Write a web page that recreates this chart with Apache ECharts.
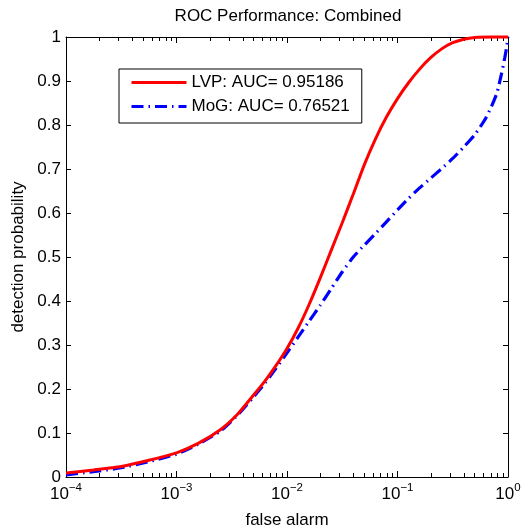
<!DOCTYPE html>
<html>
<head>
<meta charset="utf-8">
<script src="https://cdn.jsdelivr.net/npm/echarts@6/dist/echarts.min.js"></script>
<style>html,body{margin:0;padding:0;background:#fff;}#c{width:522px;height:529px;}</style>
</head>
<body>
<div id="c"></div>
<script>
// false alarm values (x) and detection probabilities (y)
var lvpFA = [1e-4, 1.778e-4, 3.162e-4, 5.623e-4, 1e-3, 1.585e-3, 2.512e-3, 3.548e-3, 5.012e-3, 6.31e-3,
             7.943e-3, 0.01, 0.01259, 0.01585, 0.01995, 0.02512, 0.03162, 0.03981, 0.05012, 0.0631,
             0.07943, 0.1, 0.1259, 0.1585, 0.1995, 0.2512, 0.3162, 0.3981, 0.5012, 0.7079, 1];
var lvpPD = [0.009, 0.016, 0.024, 0.038, 0.055, 0.077, 0.108, 0.142, 0.187, 0.218,
             0.253, 0.292, 0.338, 0.392, 0.452, 0.515, 0.578, 0.643, 0.710, 0.768,
             0.818, 0.860, 0.896, 0.927, 0.953, 0.973, 0.987, 0.995, 0.999, 1.0, 1.0];
var mogFA = [1e-4, 1.778e-4, 3.162e-4, 5.623e-4, 1e-3, 1.585e-3, 2.512e-3, 3.548e-3, 5.012e-3, 6.31e-3,
             7.943e-3, 0.01, 0.01259, 0.01585, 0.01995, 0.02512, 0.03162, 0.03981, 0.05012, 0.0631,
             0.07943, 0.1, 0.1259, 0.1585, 0.1995, 0.2512, 0.3162, 0.3981, 0.5012, 0.631,
             0.7079, 0.7943, 0.871, 0.9333, 0.9772, 1];
var mogPD = [0.005, 0.012, 0.021, 0.035, 0.052, 0.075, 0.105, 0.140, 0.183, 0.213,
             0.247, 0.282, 0.318, 0.354, 0.390, 0.428, 0.466, 0.500, 0.527, 0.553,
             0.580, 0.607, 0.633, 0.657, 0.679, 0.701, 0.724, 0.750, 0.778, 0.816,
             0.842, 0.873, 0.915, 0.952, 0.980, 1.0];
var seriesNames = ['LVP: AUC= 0.95186', 'MoG: AUC= 0.76521'];
var xMajorTicks = [1e-4, 1e-3, 1e-2, 1e-1, 1];
var yTicks = [0, 0.1, 0.2, 0.3, 0.4, 0.5, 0.6, 0.7, 0.8, 0.9, 1];

var xMinorTicks = [];
for (var i = 0; i < xMajorTicks.length - 1; i++) {
  for (var k = 2; k <= 9; k++) xMinorTicks.push(+(xMajorTicks[i] * k).toPrecision(3));
}
function zip(a, b) { return a.map(function (v, i) { return [v, b[i]]; }); }

var FONT = 'Liberation Sans, Arial, Helvetica, sans-serif';
var FS = 17;

function xAxisBase(pos, show, ticks, len) {
  return {
    type: 'log', logBase: 10, min: 1e-4, max: 1, position: pos,
    axisLine: { show: show, onZero: false, lineStyle: { color: '#000', width: 1 } },
    axisTick: { show: true, inside: true, length: len, customValues: ticks, lineStyle: { color: '#000', width: 1 } },
    axisLabel: { show: false },
    splitLine: { show: false }, minorTick: { show: false }, minorSplitLine: { show: false }
  };
}

var xMain = xAxisBase('bottom', true, xMajorTicks, 6);
xMain.axisLabel = {
  show: true, customValues: xMajorTicks, margin: 9,
  formatter: function (v) {
    var e = Math.round(Math.log10(v));
    return '{b|10}{e|' + (e < 0 ? '\u2212' + (-e) : e) + '}';
  },
  rich: {
    b: { fontSize: FS, fontFamily: FONT, color: '#000', lineHeight: 17 },
    e: { fontSize: 11.5, fontFamily: FONT, color: '#000', lineHeight: 12, padding: [0, 0, 13, 0] }
  }
};
xMain.name = 'false alarm';
xMain.nameLocation = 'middle';
xMain.nameGap = 34;
xMain.nameTextStyle = { fontSize: FS, fontFamily: FONT, color: '#000' };

function yAxisBase(pos, showLabel) {
  return {
    type: 'value', min: 0, max: 1, interval: 0.1, position: pos,
    axisLine: { show: true, onZero: false, lineStyle: { color: '#000', width: 1 } },
    axisTick: { show: true, inside: true, length: 5, customValues: yTicks, lineStyle: { color: '#000', width: 1 } },
    axisLabel: { show: showLabel, customValues: yTicks, margin: 5, fontSize: FS, fontFamily: FONT, color: '#000' },
    splitLine: { show: false }
  };
}
var yMain = yAxisBase('left', true);
yMain.name = 'detection probability';
yMain.nameLocation = 'middle';
yMain.nameGap = 37;
yMain.nameTextStyle = { fontSize: FS, fontFamily: FONT, color: '#000' };

var chart = echarts.init(document.getElementById('c'), null, { renderer: 'canvas' });
chart.setOption({
  animation: false,
  backgroundColor: '#fff',
  title: {
    text: 'ROC Performance: Combined', left: 288, top: 8, padding: 0, textAlign: 'center',
    textStyle: { fontSize: FS, fontWeight: 'normal', fontFamily: FONT, color: '#000' }
  },
  grid: { left: 66, right: 14, top: 37, bottom: 52, containLabel: false, outerBoundsMode: 'none' },
  legend: {
    orient: 'vertical', left: 119, top: 69,
    padding: [5, 12, 8, 11], itemGap: 7, itemWidth: 55, itemHeight: 14,
    borderColor: '#000', borderWidth: 1, backgroundColor: '#fff',
    itemStyle: { opacity: 0 },
    lineStyle: { width: 3 },
    textStyle: { fontSize: FS, fontFamily: FONT, color: '#000' },
    data: seriesNames
  },
  xAxis: [
    xMain,
    xAxisBase('bottom', false, xMinorTicks, 4),
    xAxisBase('top', true, xMajorTicks, 6),
    xAxisBase('top', false, xMinorTicks, 4)
  ],
  yAxis: [yMain, yAxisBase('right', false)],
  series: [
    {
      name: seriesNames[1], type: 'line', xAxisIndex: 0, yAxisIndex: 0,
      data: zip(mogFA, mogPD), smooth: 0.2, showSymbol: false, symbol: 'none', clip: false,
      lineStyle: { color: '#0000ff', width: 3.2, type: [12, 5, 1.5, 5] }, itemStyle: { color: '#0000ff' }, z: 2
    },
    {
      name: seriesNames[0], type: 'line', xAxisIndex: 0, yAxisIndex: 0,
      data: zip(lvpFA, lvpPD), smooth: 0.2, showSymbol: false, symbol: 'none', clip: false,
      lineStyle: { color: '#ff0000', width: 3 }, itemStyle: { color: '#ff0000' }, z: 3
    }
  ]
});
</script>
</body>
</html>
